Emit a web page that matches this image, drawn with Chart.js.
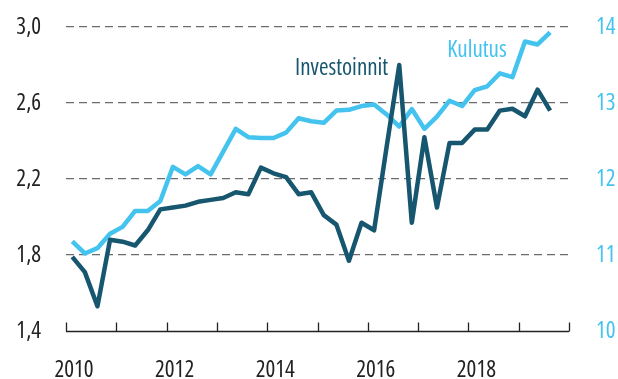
<!DOCTYPE html>
<html>
<head>
<meta charset="utf-8">
<script src="https://cdn.jsdelivr.net/npm/chart.js@4/dist/chart.umd.min.js"></script>
<style>
  html, body { margin: 0; padding: 0; background: #fff; }
  #wrap { width: 618px; height: 379px; position: relative; }
</style>
</head>
<body>
<div id="wrap"><canvas id="chart" width="618" height="379"></canvas></div>
<script>
// quarterly series, 2010Q1 .. 2019Q3
const startYear = 2010;
const investoinnit = [
  1.79, 1.71, 1.53, 1.88, 1.87, 1.85, 1.93, 2.04,
  2.05, 2.06, 2.08, 2.09, 2.10, 2.13, 2.12, 2.26,
  2.23, 2.21, 2.12, 2.13, 2.01, 1.96, 1.77, 1.97,
  1.93, 2.37, 2.80, 1.97, 2.42, 2.05, 2.39, 2.39,
  2.46, 2.46, 2.56, 2.57, 2.53, 2.67, 2.56
];
const kulutus = [
  11.18, 11.02, 11.09, 11.28, 11.37, 11.58, 11.58, 11.71,
  12.16, 12.06, 12.17, 12.06, 12.36, 12.66, 12.55, 12.54,
  12.54, 12.61, 12.80, 12.76, 12.74, 12.90, 12.91, 12.96,
  12.98, 12.85, 12.69, 12.92, 12.66, 12.82, 13.03, 12.96,
  13.17, 13.22, 13.39, 13.34, 13.81, 13.77, 13.93
];
const yearLabels = [2010, 2012, 2014, 2016, 2018];
const leftTicks = [1.4, 1.8, 2.2, 2.6, 3.0];
const rightTicks = [10, 11, 12, 13, 14];

const DARK = "#17566f";
const LIGHT = "#45c3ef";
const FONT = "'Open Sans', 'DejaVu Sans', sans-serif";
// "condensed" goes in front of the size in the canvas font string
const tickFont = { family: FONT, size: 23, weight: "condensed" };

// point at the middle of each quarter
function toPoints(values) {
  return values.map((v, i) => ({ x: startYear + (i + 0.5) / 4, y: v }));
}

// drop the extra room chart.js reserves around tick labels
function noEdgePadding(scale) {
  scale.paddingTop = 0;
  scale.paddingBottom = 0;
  scale.paddingLeft = 0;
  scale.paddingRight = 0;
}

/* ---------- PLUGIN: axis line with inward ticks + series names ---------- */

const bottomAxis = {
  id: "bottomAxis",
  afterDatasetsDraw(chart) {
    const { ctx, chartArea, scales } = chart;
    const x = scales.x;
    ctx.save();
    ctx.strokeStyle = "#222";
    ctx.lineWidth = 1.3;
    ctx.beginPath();
    ctx.moveTo(chartArea.left, chartArea.bottom + 0.5);
    ctx.lineTo(chartArea.right, chartArea.bottom + 0.5);
    for (let yr = 2010; yr <= 2020; yr++) {
      const px = Math.round(x.getPixelForValue(yr)) + 0.5;
      ctx.moveTo(px, chartArea.bottom + 0.5);
      ctx.lineTo(px, chartArea.bottom - 8.5);
    }
    ctx.stroke();

    // series names next to their lines
    const yl = scales.yLeft, yr = scales.yRight;
    ctx.font = "condensed 23px " + FONT;
    ctx.textAlign = "center";
    ctx.textBaseline = "alphabetic";
    ctx.fillStyle = DARK;
    ctx.fillText("Investoinnit", x.getPixelForValue(2015.48), yl.getPixelForValue(2.75));
    ctx.fillStyle = LIGHT;
    ctx.fillText("Kulutus", x.getPixelForValue(2018.17), yr.getPixelForValue(13.61));
    ctx.restore();
  }
};

/* ---------- CHART ---------- */

new Chart(document.getElementById("chart"), {
  type: "line",
  data: {
    datasets: [
      {
        label: "Investoinnit",
        data: toPoints(investoinnit),
        yAxisID: "yLeft",
        borderColor: DARK,
        borderWidth: 4.5,
        borderJoinStyle: "round",
        pointRadius: 0,
        tension: 0,
        order: 0
      },
      {
        label: "Kulutus",
        data: toPoints(kulutus),
        yAxisID: "yRight",
        borderColor: LIGHT,
        borderWidth: 4.5,
        borderJoinStyle: "round",
        pointRadius: 0,
        tension: 0,
        order: 1
      }
    ]
  },
  options: {
    responsive: false,
    animation: false,
    events: [],
    layout: { padding: { top: 27, bottom: 0, left: 0, right: 0 } },
    plugins: { legend: { display: false }, tooltip: { enabled: false } },
    scales: {
      x: {
        type: "linear",
        min: 2010,
        max: 2020,
        afterBuildTicks(scale) {
          const t = [];
          for (let yr = 2010; yr <= 2020; yr++) t.push({ value: yr });
          scale.ticks = t;
        },
        afterFit(scale) { scale.height = 48; noEdgePadding(scale); },
        grid: { display: false, drawTicks: false },
        border: { display: false },
        ticks: {
          autoSkip: false,
          maxRotation: 0,
          padding: 26,
          labelOffset: 8,
          color: "#222",
          font: tickFont,
          callback: v => (yearLabels.includes(v) ? String(v) : "")
        }
      },
      yLeft: {
        position: "left",
        min: 1.4,
        max: 3.0,
        afterBuildTicks(scale) { scale.ticks = leftTicks.map(v => ({ value: v })); },
        afterFit(scale) { scale.width = 66; noEdgePadding(scale); },
        border: { display: false, dash: [8, 5] },
        grid: {
          drawTicks: false,
          color: ctx => (ctx.tick && ctx.tick.value === 1.4 ? "rgba(0,0,0,0)" : "#6b6b6b"),
          lineWidth: 1.2
        },
        ticks: {
          padding: 25,
          color: "#222",
          font: tickFont,
          callback: v => v.toFixed(1).replace(".", ",")
        }
      },
      yRight: {
        position: "right",
        min: 10,
        max: 14,
        afterBuildTicks(scale) { scale.ticks = rightTicks.map(v => ({ value: v })); },
        afterFit(scale) { scale.width = 49; noEdgePadding(scale); },
        border: { display: false },
        grid: { display: false, drawTicks: false },
        ticks: {
          padding: 27,
          color: LIGHT,
          font: tickFont,
          callback: v => String(v)
        }
      }
    }
  },
  plugins: [bottomAxis]
});
</script>
</body>
</html>
